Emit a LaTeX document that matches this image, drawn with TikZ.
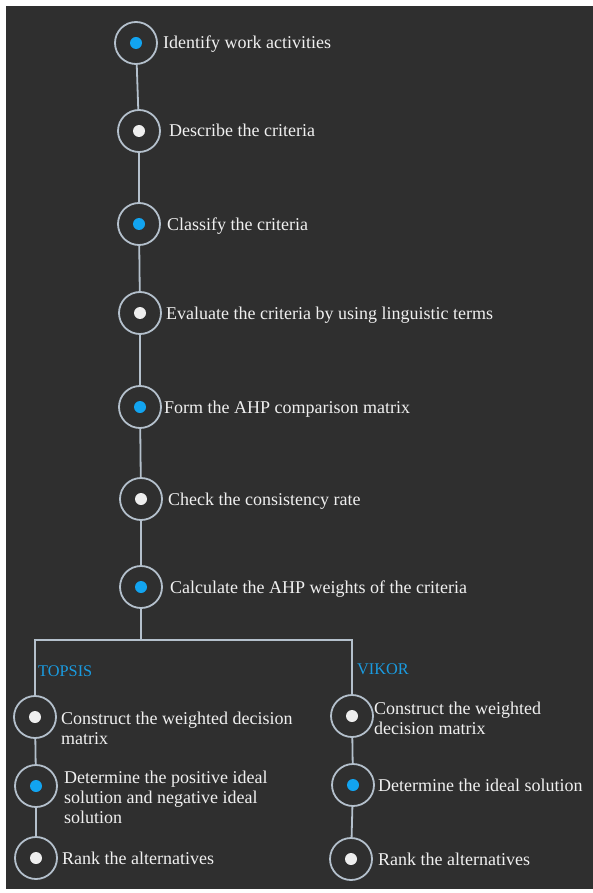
\documentclass[tikz,border=0pt]{standalone}
\usepackage{fontspec}
\setmainfont{Liberation Serif}
\definecolor{bgc}{HTML}{2F2F2F}
\definecolor{ringc}{HTML}{B4C0CC}
\definecolor{dotblue}{HTML}{12A4F0}
\definecolor{dotwhite}{HTML}{EEEEEE}
\definecolor{txtc}{HTML}{F0F0F0}
\definecolor{labc}{HTML}{1A9BE0}
\tikzset{
  ring/.style={circle, draw=ringc, line width=1.8pt, minimum size=42pt, inner sep=0pt},
  bluestep/.style={ring, path picture={\fill[dotblue] (path picture bounding box.center) circle (6pt);}},
  whitestep/.style={ring, path picture={\fill[dotwhite] (path picture bounding box.center) circle (6pt);}},
  conn/.style={draw=ringc, line width=1.8pt},
  lbl/.style={anchor=base west, inner sep=0pt, text=txtc, font=\fontsize{18}{20}\selectfont, align=left},
  meth/.style={anchor=base west, inner sep=0pt, text=labc, font=\fontsize{16.3}{19}\selectfont}
}
\begin{document}
\begin{tikzpicture}[x=1pt,y=-1pt]
\useasboundingbox (0,0) rectangle (593,893);
\fill[white] (0,0) rectangle (593,893);
\fill[bgc] (6,6) rectangle (593,889);
% main column
\node[bluestep]  (c1) at (136,43)  {};
\node[whitestep] (c2) at (139,131) {};
\node[bluestep]  (c3) at (139,224) {};
\node[whitestep] (c4) at (140,313) {};
\node[bluestep]  (c5) at (140,407) {};
\node[whitestep] (c6) at (141,499) {};
\node[bluestep]  (c7) at (141,587) {};
\node[lbl] (t1) at (163,49)  {Identify work activities};
\node[lbl] (t2) at (169,137) {Describe the criteria};
\node[lbl] (t3) at (167,230) {Classify the criteria};
\node[lbl] (t4) at (166,319) {Evaluate the criteria by using linguistic terms};
\node[lbl] (t5) at (164,413) {Form the AHP comparison matrix};
\node[lbl] (t6) at (168,505) {Check the consistency rate};
\node[lbl] (t7) at (170,593) {Calculate the AHP weights of the criteria};
% branches
\coordinate (b) at (142,640);
\node[whitestep] (l1) at (35,717) {};
\node[bluestep]  (l2) at (36,786) {};
\node[whitestep] (l3) at (36,858) {};
\node[whitestep] (r1) at (352,716) {};
\node[bluestep]  (r2) at (353,785) {};
\node[whitestep] (r3) at (351,859) {};
\node[meth] (topsis) at (38,676) {TOPSIS};
\node[meth] (vikor) at (357,674) {VIKOR};
\node[lbl] (lt1) at (61,744) {Construct the weighted decision\\matrix};
\node[lbl] (lt2) at (64,823) {Determine the positive ideal\\solution and negative ideal\\solution};
\node[lbl] (lt3) at (62,864) {Rank the alternatives};
\node[lbl] (rt1) at (374,734) {Construct the weighted\\decision matrix};
\node[lbl] (rt2) at (378,791) {Determine the ideal solution};
\node[lbl] (rt3) at (378,865) {Rank the alternatives};
% connectors
\draw[conn] (c1) -- (c2);
\draw[conn] (c2) -- (c3);
\draw[conn] (c3) -- (c4);
\draw[conn] (c4) -- (c5);
\draw[conn] (c5) -- (c6);
\draw[conn] (c6) -- (c7);
\draw[conn] (c7) -- (c7 |- b);
\draw[conn] (l1) -- (l1 |- b) -- (r1 |- b) -- (r1);
\draw[conn] (l1) -- (l2);
\draw[conn] (l2) -- (l3);
\draw[conn] (r1) -- (r2);
\draw[conn] (r2) -- (r3);
\end{tikzpicture}
\end{document}
